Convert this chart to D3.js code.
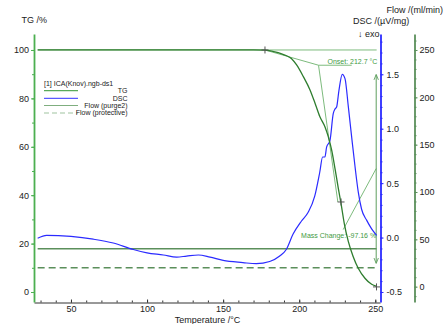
<!DOCTYPE html>
<html><head><meta charset="utf-8">
<script src="https://cdn.jsdelivr.net/npm/d3@7"></script>
<style>body{margin:0;background:#fff}svg{display:block;font-family:"Liberation Sans",Arial,sans-serif}</style>
</head><body><svg id="c" width="446" height="324"></svg>
<script>
// ---- data ----
const tgTemp = [28.1, 100, 150, 170, 177.5, 184, 188, 191.7, 195, 198.3, 202.7, 207.1, 210.4, 213.6, 216.9, 219.1, 221.3, 223.5, 225.7, 227.5, 229.6, 232.3, 235.5, 238.8, 243.2, 247.6, 250.9];
const tgMass = [100, 100, 100, 100, 99.9, 99.2, 98.5, 97.6, 96.4, 93.8, 89, 83.5, 78, 72.4, 68.3, 64.2, 58.7, 51.1, 42.8, 36.5, 28.4, 20.8, 14.6, 9.8, 5.7, 3.2, 2.3];
const dscTemp = [28.1, 34, 50, 64.7, 77.8, 91, 100, 110.7, 119.5, 126, 133.7, 141.4, 150, 163, 171.8, 180.6, 187.2, 191.5, 195.9, 201.4, 205.8, 210.2, 213.5, 215.4, 216.9, 218, 220.2, 222.4, 223.5, 224.6, 226.1, 228.3, 230.1, 232.3, 234.5, 236.7, 238.8, 241, 244.3, 247.6, 250.9];
const dscVal = [-0.006, 0.02, 0.01, -0.015, -0.05, -0.11, -0.14, -0.16, -0.18, -0.17, -0.16, -0.18, -0.21, -0.23, -0.24, -0.22, -0.17, -0.11, 0.03, 0.15, 0.23, 0.38, 0.60, 0.74, 0.74, 0.83, 0.89, 1.14, 1.18, 1.20, 1.35, 1.50, 1.46, 1.20, 0.92, 0.65, 0.42, 0.26, 0.16, 0.08, 0.02];
const flowTemp = [28.1, 250.9];
const flowPurge = [40, 40];
const flowProtective = [20, 20];

const xMajor = [50, 100, 150, 200, 250];
const xMinor = d3.range(30, 251, 10);
const tgMajor = [0, 20, 40, 60, 80, 100];
const tgMinor = d3.range(0, 101, 10);
const dscMajor = [-0.5, 0.0, 0.5, 1.0, 1.5];
const dscMinor = d3.range(-5, 19, 1).map(d => d / 10);
const flowMajor = [0, 50, 100, 150, 200, 250];
const flowMinor = d3.range(-10, 261, 10);

const legendTitle = "[1] ICA(Knov).ngb-ds1";
const legendNames = ["TG", "DSC", "Flow (purge2)", "Flow (protective)"];

// annotations (temperature, TG %)
const markerTemp = [177.5, 227.5, 250.8];
const markerTG = [100, 37.2, 2.1];
const onsetTemp = 212.7, onsetTG = 93.7, onsetLabelEnd = 234.5, tangentEndTemp = 225.4, tangentEndTG = 37.2;
const onsetText = "Onset: 212.7 °C";
const massArrowTemp = 250.6, massArrowTop = 89.7, massArrowBottom = 12;
const massLeader = [[250.6, 51], [228.9, 25.8]];
const massText = "Mass Change: -97.16 %";

// ---- scales ----
const svg = d3.select("#c");
const x = d3.scaleLinear().domain([25.7, 253.1]).range([34, 380]);
const yTG = d3.scaleLinear().domain([-4.13, 106.6]).range([302, 34]);
const yDSC = d3.scaleLinear().domain([-0.592, 1.870]).range([302, 34]);
const yFlow = d3.scaleLinear().domain([-16.2, 266.9]).range([302, 34]);

const FONT = "Liberation Sans, Arial, sans-serif";
function styleAxis(g, col, w, textCol) {
  g.attr("font-family", FONT).attr("font-size", 9);
  g.select(".domain").attr("stroke", col).attr("stroke-width", w);
  g.selectAll(".tick line").attr("stroke", col).attr("stroke-width", 1);
  g.selectAll(".tick text").attr("fill", textCol);
}

const defs = svg.append("defs");
defs.append("marker").attr("id", "ah").attr("viewBox", "0 0 6 6").attr("refX", 5).attr("refY", 3)
  .attr("markerWidth", 6).attr("markerHeight", 6).attr("orient", "auto-start-reverse")
  .append("path").attr("d", "M0,0.8L5.5,3L0,5.2").attr("fill", "none").attr("stroke", "#5f9f5f").attr("stroke-width", 0.9);

// ---- axes ----
// x
const gx = svg.append("g").attr("transform", "translate(0,302.5)")
  .call(d3.axisBottom(x).tickValues(xMajor).tickSize(-3).tickSizeOuter(0).tickPadding(3));
styleAxis(gx, "#333", 1, "#222");
const gxm = svg.append("g").attr("transform", "translate(0,302.5)")
  .call(d3.axisBottom(x).tickValues(xMinor).tickSize(-2).tickFormat(""));
gxm.select(".domain").remove(); gxm.selectAll("line").attr("stroke", "#333");

// TG left
const gtg = svg.append("g").attr("transform", "translate(34,0)")
  .call(d3.axisLeft(yTG).tickValues(tgMajor).tickSize(3).tickSizeOuter(0).tickPadding(2));
styleAxis(gtg, "#4caf50", 1.8, "#222");
const gtgm = svg.append("g").attr("transform", "translate(34,0)")
  .call(d3.axisLeft(yTG).tickValues(tgMinor).tickSize(2).tickFormat(""));
gtgm.select(".domain").remove(); gtgm.selectAll("line").attr("stroke", "#4caf50");

// DSC right
const gd = svg.append("g").attr("transform", "translate(380.5,0)")
  .call(d3.axisRight(yDSC).tickValues(dscMajor).tickFormat(d => d.toFixed(1)).tickSize(3).tickSizeOuter(0).tickPadding(3));
styleAxis(gd, "#2b2bff", 1.8, "#222");
const gdm = svg.append("g").attr("transform", "translate(380.5,0)")
  .call(d3.axisRight(yDSC).tickValues(dscMinor).tickSize(2).tickFormat(""));
gdm.select(".domain").remove(); gdm.selectAll("line").attr("stroke", "#2b2bff");

// Flow right
const gf = svg.append("g").attr("transform", "translate(414.5,0)")
  .call(d3.axisRight(yFlow).tickValues(flowMajor).tickSize(3).tickSizeOuter(0).tickPadding(2));
styleAxis(gf, "#5b8f5b", 1.8, "#222");
const gfm = svg.append("g").attr("transform", "translate(414.5,0)")
  .call(d3.axisRight(yFlow).tickValues(flowMinor).tickSize(2).tickFormat(""));
gfm.select(".domain").remove(); gfm.selectAll("line").attr("stroke", "#5b8f5b");

// ---- titles ----
const t = (txt, xx, yy, anchor, size) => svg.append("text").text(txt).attr("x", xx).attr("y", yy)
  .attr("text-anchor", anchor || "start").attr("font-size", size || 9).attr("font-family", FONT).attr("fill", "#222");
t("TG /%", 21.5, 22.5);
t("Flow /(ml/min)", 443, 12.5, "end");
t("DSC /(\u00b5V/mg)", 353, 23.5);
t("\u2193 exo", 379.5, 36.5, "end");
t("Temperature /\u00b0C", 207.5, 322.5, "middle");

// ---- flow lines ----
const lineFlow = d3.line().x(d => x(d[0])).y(d => yFlow(d[1]));
svg.append("path").datum(d3.zip(flowTemp, flowPurge)).attr("d", lineFlow)
  .attr("fill", "none").attr("stroke", "#5b8f5b").attr("stroke-width", 1.6);
svg.append("path").datum(d3.zip(flowTemp, flowProtective)).attr("d", lineFlow)
  .attr("fill", "none").attr("stroke", "#5b8f5b").attr("stroke-width", 1.6).attr("stroke-dasharray", "7,4");

// ---- onset construction ----
const ann = svg.append("g").attr("fill", "none").attr("stroke", "#7dbb7d").attr("stroke-width", 1);
const lineTG = d3.line().x(d => x(d[0])).y(d => yTG(d[1]));
ann.append("path").attr("d", lineTG([[flowTemp[0], 100], [flowTemp[1], 100]]));
ann.append("path").attr("d", lineTG([[markerTemp[0], markerTG[0]], [onsetTemp, onsetTG], [onsetLabelEnd, onsetTG]]));
ann.append("path").attr("d", lineTG([[onsetTemp, onsetTG], [tangentEndTemp, tangentEndTG]]));
ann.append("path").attr("d", lineTG(massLeader));
svg.append("path").attr("d", lineTG([[massArrowTemp, massArrowTop], [massArrowTemp, massArrowBottom]]))
  .attr("stroke", "#5f9f5f").attr("stroke-width", 1).attr("fill", "none")
  .attr("marker-start", "url(#ah)").attr("marker-end", "url(#ah)");

svg.append("text").text(onsetText).attr("x", x(onsetTemp) + 9).attr("y", yTG(onsetTG) - 1.2)
  .attr("font-size", 7).attr("font-family", FONT).attr("fill", "#3f9a3f");
svg.append("text").text(massText).attr("x", x(massArrowTemp)).attr("y", 237.5).attr("text-anchor", "end")
  .attr("font-size", 7).attr("font-family", FONT).attr("fill", "#3f9a3f");

// ---- DSC ----
svg.append("path").datum(d3.zip(dscTemp, dscVal))
  .attr("d", d3.line().x(d => x(d[0])).y(d => yDSC(d[1])).curve(d3.curveMonotoneX))
  .attr("fill", "none").attr("stroke", "#2b2bff").attr("stroke-width", 1.2);

// ---- TG ----
svg.append("path").datum(d3.zip(tgTemp, tgMass))
  .attr("d", d3.line().x(d => x(d[0])).y(d => yTG(d[1])).curve(d3.curveMonotoneX))
  .attr("fill", "none").attr("stroke", "#2e7d2e").attr("stroke-width", 1.3);

// markers
svg.selectAll(".mk").data(d3.zip(markerTemp, markerTG)).join("path")
  .attr("transform", d => `translate(${x(d[0])},${yTG(d[1])})`)
  .attr("d", "M-3.5,0H3.5M0,-3.5V3.5").attr("stroke", "#555").attr("stroke-width", 1);

// ---- legend ----
const lg = svg.append("g").attr("font-family", FONT).attr("font-size", 7).attr("fill", "#222");
lg.append("text").text(legendTitle).attr("x", 44).attr("y", 86);
const legStyles = [
  {c: "#5aaa5a", d: null}, {c: "#5a5aff", d: null}, {c: "#7fae7f", d: null}, {c: "#9fc49f", d: "5,3"}];
const legY = [90.7, 98.3, 105.5, 113];
legendNames.forEach((n, i) => {
  lg.append("line").attr("x1", 44).attr("x2", 78).attr("y1", legY[i]).attr("y2", legY[i])
    .attr("stroke", legStyles[i].c).attr("stroke-width", 1.2).attr("stroke-dasharray", legStyles[i].d);
  lg.append("text").text(n).attr("x", 127.5).attr("y", legY[i] + 2.3).attr("text-anchor", "end");
});
</script></body></html>
